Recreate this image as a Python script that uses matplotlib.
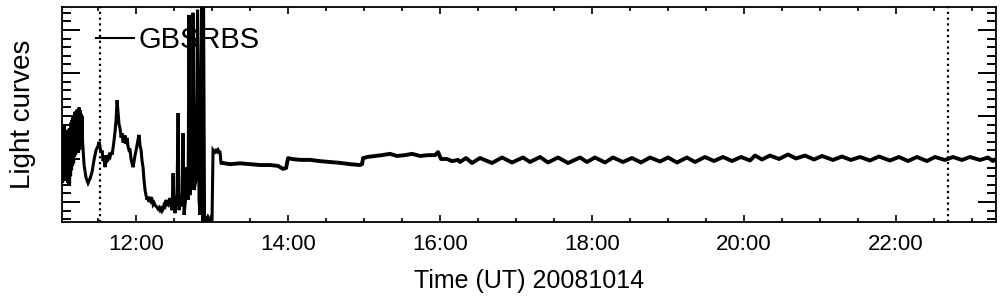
import matplotlib
matplotlib.use("Agg")
import matplotlib.pyplot as plt
from matplotlib.ticker import MultipleLocator, FuncFormatter

plt.rcParams['font.family'] = ['Liberation Sans', 'DejaVu Sans']

# Time in decimal hours UT (2008-10-14), light curve in arbitrary units
time_burst = [11.026, 11.033, 11.039, 11.046, 11.053, 11.059, 11.066, 11.072, 11.079, 11.086,
              11.092, 11.099, 11.105, 11.112, 11.118, 11.125, 11.132, 11.138, 11.145, 11.151,
              11.158, 11.164, 11.171, 11.178, 11.184, 11.191, 11.197, 11.204, 11.211, 11.217,
              11.224, 11.230, 11.237, 11.243, 11.250, 11.257, 11.263, 11.270, 11.276, 11.283,
              11.289, 11.296, 11.303, 11.316, 11.342, 11.368, 11.395, 11.421, 11.447, 11.474,
              11.500, 11.513, 11.526, 11.539, 11.553, 11.566, 11.579, 11.592, 11.605, 11.618,
              11.632, 11.645, 11.658, 11.671, 11.684, 11.697, 11.711, 11.724, 11.737, 11.750,
              11.763, 11.776, 11.789, 11.803, 11.816, 11.829, 11.842, 11.855, 11.868, 11.882,
              11.895, 11.908, 11.921, 11.934, 11.947, 11.961, 11.974, 11.987, 12.000, 12.013,
              12.026, 12.039, 12.053, 12.066, 12.079, 12.092, 12.105, 12.118, 12.132, 12.145,
              12.158, 12.171, 12.184, 12.197, 12.211, 12.224, 12.237, 12.250, 12.263, 12.276,
              12.289, 12.303, 12.316, 12.329, 12.342, 12.355, 12.368, 12.382, 12.395, 12.408,
              12.421, 12.434, 12.447, 12.461, 12.474, 12.487, 12.500, 12.513, 12.526, 12.539,
              12.553, 12.566, 12.579, 12.592, 12.605, 12.618, 12.632, 12.645, 12.658, 12.671,
              12.684, 12.697, 12.711, 12.724, 12.737, 12.750, 12.763, 12.776, 12.789, 12.809,
              12.829, 12.842, 12.862, 12.875, 12.888, 12.901, 12.921, 12.934, 12.947, 12.961,
              12.974, 12.987, 13.000, 13.013, 13.026, 13.039, 13.053, 13.066, 13.079, 13.092,
              13.105, 13.118, 13.132]
flux_burst = [22.1, 14.5, 27.5, 15.0, 27.9, 16.0, 26.0, 15.5, 26.7, 15.0,
              25.5, 14.5, 24.4, 14.2, 27.0, 14.0, 27.2, 16.0, 28.5, 17.4,
              29.1, 18.5, 30.0, 19.0, 29.5, 20.5, 31.0, 21.0, 30.2, 22.0,
              31.5, 22.5, 30.9, 21.5, 32.0, 22.1, 31.4, 24.0, 30.5, 25.6,
              30.0, 24.0, 22.1, 18.6, 15.6, 14.4, 15.5, 17.0, 19.8, 22.1,
              23.0, 24.0, 22.8, 21.5, 22.0, 19.5, 20.5, 18.1, 20.9, 19.5,
              19.8, 20.8, 20.5, 21.6, 21.0, 22.5, 24.4, 26.5, 29.1, 33.7,
              30.9, 28.0, 27.2, 25.0, 26.0, 23.8, 24.4, 25.5, 23.5, 24.9,
              22.8, 22.0, 22.1, 20.0, 19.0, 18.1, 19.5, 20.9, 22.0, 23.3,
              24.5, 25.6, 23.0, 22.1, 19.5, 18.1, 15.0, 12.8, 11.5, 10.5,
              11.2, 10.0, 11.2, 10.2, 10.5, 9.4, 9.8, 9.3, 9.0, 8.8,
              8.4, 8.7, 8.1, 8.5, 7.9, 8.3, 9.3, 9.0, 10.5, 9.5,
              9.3, 10.2, 10.9, 9.0, 8.1, 16.7, 9.0, 7.4, 9.5, 11.6,
              30.7, 8.1, 10.0, 11.6, 9.0, 26.0, 7.0, 9.5, 11.6, 18.1,
              10.5, 53.5, 11.6, 19.8, 12.8, 54.0, 12.8, 14.0, 15.1, 54.7,
              10.5, 7.0, 57.0, 5.3, 57.0, 5.8, 6.2, 5.8, 6.5, 6.0,
              5.8, 6.4, 6.2, 22.1, 21.8, 21.6, 22.0, 21.7, 22.1, 21.6,
              21.6, 19.1, 19.1]

time_quiet = [13.132, 13.237, 13.368, 13.500, 13.632, 13.763, 13.868, 13.934, 13.974, 14.000,
              14.053, 14.158, 14.289, 14.421, 14.553, 14.684, 14.816, 14.947, 14.974, 14.987,
              15.053, 15.145, 15.237, 15.342, 15.434, 15.539, 15.632, 15.737, 15.842, 15.934,
              15.974, 16.013, 16.092, 16.158, 16.237,
              16.263, 16.342, 16.421, 16.526, 16.684, 16.816, 16.947, 17.092, 17.184, 17.316,
              17.421, 17.553, 17.684, 17.842, 17.934, 18.039, 18.171, 18.276, 18.408, 18.526,
              18.645, 18.763, 18.895, 19.000, 19.118, 19.250, 19.355, 19.487, 19.605, 19.724,
              19.842, 19.961, 20.079, 20.145, 20.237, 20.342, 20.461, 20.579, 20.684, 20.803,
              20.921, 21.026, 21.171, 21.289, 21.408, 21.526, 21.658, 21.776, 21.921, 22.039,
              22.158, 22.276, 22.408, 22.513, 22.645, 22.750, 22.868, 22.974, 23.105, 23.211,
              23.276, 23.316]
flux_quiet = [19.1, 18.8, 19.0, 18.8, 18.6, 18.6, 18.4, 17.7, 17.9, 20.2,
              20.0, 19.8, 19.8, 19.5, 19.3, 19.1, 18.8, 18.6, 18.8, 20.2,
              20.5, 20.7, 20.9, 21.2, 20.7, 20.9, 21.2, 20.7, 20.9, 20.9,
              21.6, 20.0, 20.0, 19.5, 19.8,
              19.30, 20.23, 19.07, 20.23, 19.07, 20.35, 19.19, 20.35, 19.30, 20.47,
              19.19, 20.35, 19.07, 20.35, 19.30, 20.35, 19.19, 20.35, 19.30, 20.23,
              19.19, 20.35, 19.42, 20.35, 19.19, 20.35, 19.30, 20.47, 19.53, 20.47,
              19.53, 20.47, 19.65, 20.81, 19.88, 20.81, 20.00, 21.05, 20.12, 20.81,
              19.88, 20.70, 19.77, 20.58, 19.77, 20.47, 19.65, 20.58, 19.65, 20.47,
              19.53, 20.47, 19.53, 20.47, 19.77, 20.47, 19.77, 20.47, 19.77, 20.35,
              19.53, 20.00]

marker_times = [11.52, 22.68]
x_major_ticks = [12, 14, 16, 18, 20, 22]
legend_label = "GBSRBS"

fig = plt.figure(figsize=(10.04, 2.96), dpi=100)
ax = fig.add_axes([0.0618, 0.25, 0.9302, 0.7264])

ax.plot(time_burst, flux_burst, color='black', lw=2.2, solid_joinstyle='miter',
        label=legend_label)
ax.plot(time_quiet, flux_quiet, color='black', lw=2.8, solid_joinstyle='round')

for t in marker_times:
    ax.axvline(t, color='black', lw=1.6, linestyle=(0, (1.0, 1.6)))

ax.set_xlim(11.026, 23.316)
ax.set_ylim(5.35, 55.35)

ax.set_xticks(x_major_ticks)
ax.xaxis.set_minor_locator(MultipleLocator(0.5))
ax.xaxis.set_major_formatter(FuncFormatter(lambda v, p: "%02d:00" % int(round(v))))
ax.yaxis.set_major_locator(MultipleLocator(10))
ax.yaxis.set_minor_locator(MultipleLocator(2))
ax.set_yticklabels([])

ax.tick_params(axis='x', which='major', direction='in', length=5, width=1.2,
               top=True, bottom=True, labelsize=16, pad=9)
ax.tick_params(axis='x', which='minor', direction='in', length=3, width=1.2,
               top=True, bottom=True)
ax.tick_params(axis='y', which='major', direction='in', length=13, width=1.4,
               left=True, right=True)
ax.tick_params(axis='y', which='minor', direction='in', length=6.5, width=1.4,
               left=True, right=True)
for s in ax.spines.values():
    s.set_linewidth(1.3)

ax.set_xlabel("Time (UT) 20081014", fontsize=18, labelpad=10)
ax.set_ylabel("Light curves", fontsize=20)
ax.yaxis.set_label_coords(-0.0284, 0.5)

leg = ax.legend(loc='center left', bbox_to_anchor=(0.0364, 0.847), frameon=False,
                fontsize=21, handlelength=1.3, handletextpad=0.15, borderpad=0,
                borderaxespad=0)
for h in leg.get_lines():
    h.set_linewidth(1.5)

fig.savefig("out.png", dpi=100)
